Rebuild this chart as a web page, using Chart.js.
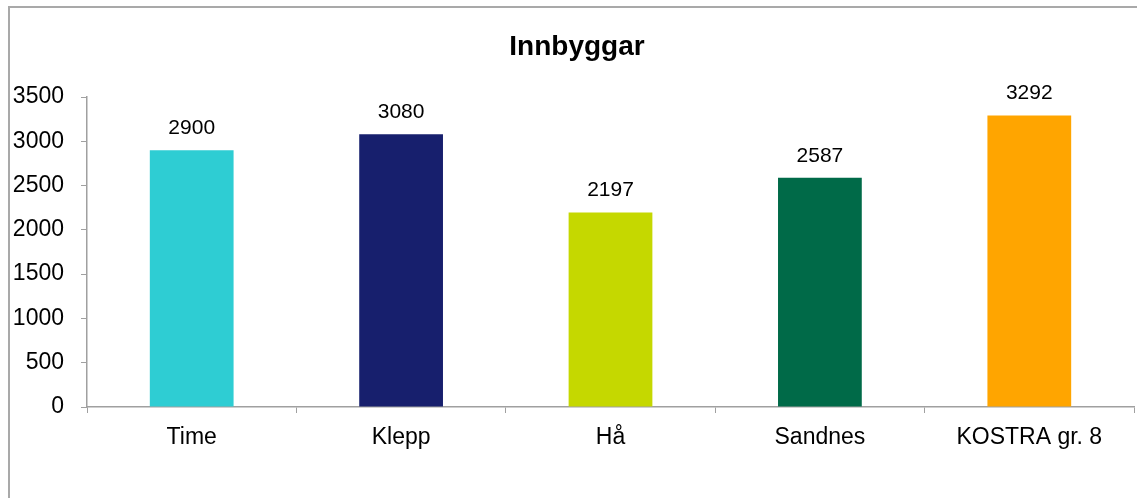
<!DOCTYPE html>
<html>
<head>
<meta charset="utf-8">
<script src="https://cdn.jsdelivr.net/npm/chart.js@4/dist/chart.umd.min.js"></script>
<style>
  html, body { margin: 0; padding: 0; background: #fff; overflow: hidden; }
  #wrap { position: relative; width: 1137px; height: 498px; overflow: hidden; }
  #frame {
    position: absolute; left: 8px; top: 6px; width: 1300px; height: 700px;
    border: 2px solid #a9a9a9; box-sizing: border-box;
  }
  #myChart { position: absolute; left: 0; top: 0; }
</style>
</head>
<body>
<div id="wrap">
  <div id="frame"></div>
  <canvas id="myChart" width="1154" height="498"></canvas>
</div>
<script>
// data
const chartTitle = "Innbyggar";
const categories = ["Time", "Klepp", "Hå", "Sandnes", "KOSTRA gr. 8"];
const innbyggar = [2900, 3080, 2197, 2587, 3292];
const barColors = ["#2ECDD3", "#171F6D", "#C5D800", "#006A48", "#FFA500"];
const yTicks = [0, 500, 1000, 1500, 2000, 2500, 3000, 3500];

const FONT = "'Liberation Sans', Arial, sans-serif";
const axisGrey = "#a0a0a0";

// draws the value over each bar
const valueLabels = {
  id: "valueLabels",
  afterDatasetsDraw(chart) {
    const c = chart.ctx;
    const meta = chart.getDatasetMeta(0);
    c.save();
    c.font = "21px " + FONT;
    c.fillStyle = "#000";
    c.textAlign = "center";
    c.textBaseline = "middle";
    meta.data.forEach((bar, i) => {
      c.fillText(String(innbyggar[i]), bar.x, bar.y - 22);
    });
    c.restore();
  },
};

// title centred on the frame, not on the plot
const frameTitle = {
  id: "frameTitle",
  afterDraw(chart) {
    const c = chart.ctx;
    c.save();
    c.font = "bold 28px " + FONT;
    c.fillStyle = "#000";
    c.textAlign = "center";
    c.textBaseline = "middle";
    c.fillText(chartTitle, 577, 47);
    c.restore();
  },
};

const ctx = document.getElementById("myChart");
const myChart = new Chart(ctx, {
  type: "bar",
  data: {
    labels: categories,
    datasets: [
      {
        label: chartTitle,
        data: innbyggar,
        backgroundColor: barColors,
        borderWidth: 0,
        categoryPercentage: 1,
        barPercentage: 0.4,
      },
    ],
  },
  options: {
    responsive: false,
    animation: false,
    maintainAspectRatio: false,
    devicePixelRatio: 1,
    layout: { padding: { left: 0, right: 20, top: 97, bottom: 0 } },
    plugins: {
      legend: { display: false },
      tooltip: { enabled: false },
      title: { display: false },
    },
    scales: {
      x: {
        grid: {
          display: true,
          drawOnChartArea: false,
          tickLength: 6,
          tickColor: axisGrey,
          offset: true,
        },
        border: { display: true, color: axisGrey, width: 1.5 },
        ticks: {
          color: "#000",
          font: { family: FONT, size: 23 },
          padding: 11,
          maxRotation: 0,
        },
        afterFit(scale) {
          scale.height = 91;
        },
      },
      y: {
        min: 0,
        max: 3500,
        afterBuildTicks(scale) {
          scale.ticks = yTicks.map((v) => ({ value: v }));
        },
        grid: {
          display: true,
          drawOnChartArea: false,
          tickLength: 6,
          tickColor: axisGrey,
        },
        border: { display: true, color: axisGrey, width: 1.5 },
        ticks: {
          color: "#000",
          font: { family: FONT, size: 23 },
          padding: 17,
          callback: (v) => String(v),
        },
        afterFit(scale) {
          scale.width = 87;
        },
      },
    },
  },
  plugins: [valueLabels, frameTitle],
});
</script>
</body>
</html>
